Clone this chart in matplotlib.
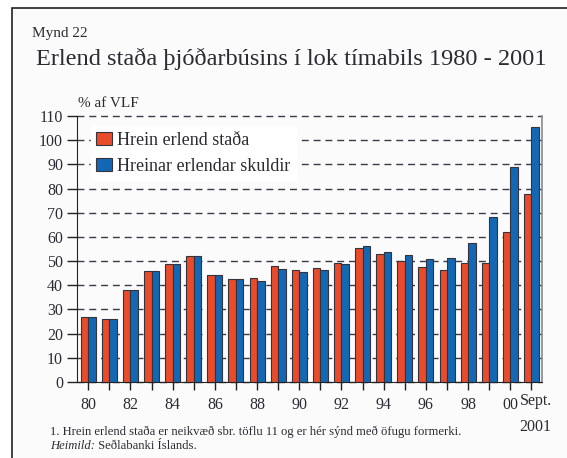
import matplotlib.pyplot as plt
from matplotlib.patches import Rectangle

# Values (% af VLF)
years = ["80", "81", "82", "83", "84", "85", "86", "87", "88", "89", "90",
         "91", "92", "93", "94", "95", "96", "97", "98", "99", "00", "Sept.\n2001"]
hrein_stada = [26.9, 26.2, 38.1, 45.8, 48.8, 52.0, 44.4, 42.7, 42.9, 47.9, 46.4,
               47.3, 49.1, 55.4, 52.8, 50.2, 47.6, 46.5, 49.1, 49.4, 62.0, 77.8]
hreinar_skuldir = [26.9, 26.2, 38.1, 45.8, 48.8, 52.0, 44.4, 42.7, 41.7, 46.8, 45.3,
                   46.5, 49.0, 56.1, 53.9, 52.5, 50.8, 51.3, 57.3, 68.4, 88.9, 105.3]
shown_labels = ["80", "82", "84", "86", "88", "90", "92", "94", "96", "98", "00"]
y_ticks = list(range(0, 111, 10))

RED = "#e94b2b"
BLUE = "#1468b3"
EDGE = "#34343f"
TXT = "#2b2b33"

plt.rcParams["font.family"] = ["Liberation Serif", "DejaVu Serif"]

fig = plt.figure(figsize=(5.67, 4.58), dpi=100)
fig.patch.set_facecolor("white")

# cropped page frame (left and top edges visible)
fig.patches.append(Rectangle((12 / 567, -0.2), 1.5, 0.2 + 1 - 8 / 458,
                             transform=fig.transFigure, facecolor="#fbfbfb",
                             edgecolor="#222222", linewidth=1.2, zorder=-10))

ax = fig.add_axes([77 / 567, 1 - 382 / 458, 465 / 567, 266 / 458])
ax.set_facecolor("none")

x = list(range(len(years)))
w = 0.355
ax.bar([i - w / 2 for i in x], hrein_stada, width=w, color=RED, edgecolor=EDGE,
       linewidth=0.8, label="Hrein erlend staða", zorder=3)
ax.bar([i + w / 2 for i in x], hreinar_skuldir, width=w, color=BLUE, edgecolor=EDGE,
       linewidth=0.8, label="Hreinar erlendar skuldir", zorder=3)

ax.set_xlim(-0.53, len(years) - 0.5)
ax.set_ylim(0, 110)
ax.set_yticks(y_ticks)
ax.set_xticks(x)
ax.set_xticklabels([lab if lab in shown_labels else "" for lab in years])

# last label drawn separately, nudged right so it clears "00"
ax.annotate(years[-1], xy=(x[-1], 0), xycoords=("data", "axes fraction"),
            xytext=(3, -7.9), textcoords="offset points", ha="center", va="top",
            fontsize=11.5, color=TXT, linespacing=1.85, annotation_clip=False)

ax.yaxis.grid(True, linestyle=(0, (5, 3.5)), color="#3a3a48", linewidth=1.0)
for gl in ax.get_ygridlines():
    gl.set_clip_on(False)
ax.set_axisbelow(True)

ax.spines["top"].set_visible(False)
ax.spines["right"].set_color("#8a8a8a")
ax.spines["right"].set_linewidth(1.2)
ax.spines["left"].set_color("#222222")
ax.spines["bottom"].set_color("#222222")

ax.tick_params(axis="y", direction="out", length=7, width=1, color="#222222",
               labelsize=11.5, labelcolor=TXT, pad=3)
ax.tick_params(axis="x", direction="out", length=6, width=1, color="#222222",
               labelsize=11.5, labelcolor=TXT, pad=5)

leg = ax.legend(loc="upper left", bbox_to_anchor=(0.01, 0.995), fontsize=13,
                frameon=True, fancybox=False, handlelength=0.9, handleheight=0.75,
                handletextpad=0.25, labelspacing=0.5, borderpad=0.3)
leg.get_frame().set_facecolor("white")
leg.get_frame().set_edgecolor("white")
leg.get_frame().set_alpha(1)
for t in leg.get_texts():
    t.set_color(TXT)

fig.text(32 / 567, 1 - 37 / 458, "Mynd 22", fontsize=11, color=TXT, va="baseline")
fig.text(36 / 567, 1 - 65 / 458, "Erlend staða þjóðarbúsins í lok tímabils 1980 - 2001",
         fontsize=17.6, color=TXT, va="baseline")
fig.text(78 / 567, 1 - 107 / 458, "% af VLF", fontsize=11, color=TXT, va="baseline")

fig.text(50 / 567, 1 - 435 / 458,
         "1. Hrein erlend staða er neikvæð sbr. töflu 11 og er hér sýnd með öfugu formerki.",
         fontsize=9.1, color=TXT, va="baseline")
h = fig.text(50 / 567, 1 - 449 / 458, "Heimild:", fontsize=9.1, color=TXT,
             style="italic", va="baseline")
ax.annotate(" Seðlabanki Íslands.", xy=(1, 0), xycoords=h, fontsize=9.1,
            color=TXT, va="bottom", ha="left", annotation_clip=False)

fig.savefig("out.png", dpi=100)
